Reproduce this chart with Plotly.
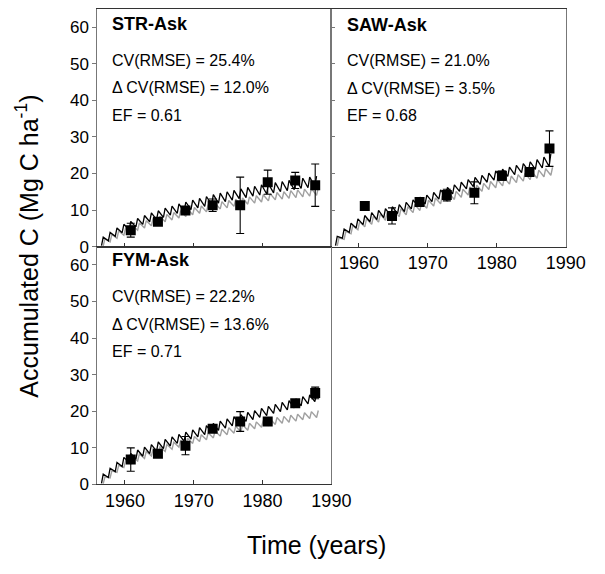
import plotly.graph_objects as go

# ---------------- data ----------------
MODEL_YEARS = list(range(1957, 1989))  # annual input years

STR_BLACK_TROUGH = [0.3, 1.6, 2.8, 3.8, 4.6, 5.4, 6.1, 6.8, 7.4, 8.0, 8.6, 9.1, 9.6, 10.1, 10.6, 11.0,
                    11.5, 11.9, 12.3, 12.7, 13.1, 13.4, 13.8, 14.1, 14.4, 14.7, 15.0, 15.3, 15.6, 15.9, 16.1, 16.4]
STR_BLACK_PEAK = [2.6, 3.9, 5.1, 6.1, 6.9, 7.7, 8.5, 9.2, 9.8, 10.5, 11.1, 11.7, 12.2, 12.7, 13.2, 13.7,
                  14.2, 14.6, 15.0, 15.4, 15.8, 16.2, 16.5, 16.9, 17.2, 17.5, 17.8, 18.1, 18.4, 18.7, 19.0, 19.3]
STR_GRAY_TROUGH = [0.2, 1.3, 2.3, 3.1, 3.8, 4.5, 5.1, 5.7, 6.3, 6.8, 7.3, 7.8, 8.2, 8.7, 9.1, 9.5,
                   9.9, 10.3, 10.6, 11.0, 11.3, 11.6, 11.9, 12.2, 12.5, 12.8, 13.0, 13.2, 13.4, 13.6, 13.8, 14.0]
STR_GRAY_PEAK = [2.2, 3.3, 4.3, 5.1, 5.8, 6.5, 7.1, 7.7, 8.3, 8.8, 9.3, 9.8, 10.3, 10.7, 11.1, 11.5,
                 11.9, 12.3, 12.6, 13.0, 13.3, 13.6, 13.9, 14.2, 14.5, 14.8, 15.0, 15.3, 15.5, 15.7, 15.9, 16.1]

SAW_BLACK_TROUGH = [0.3, 2.3, 3.9, 5.1, 6.0, 6.8, 7.4, 7.9, 8.4, 9.0, 9.6, 10.3, 11.0, 11.6, 12.3, 13.0,
                    13.7, 14.4, 15.1, 15.8, 16.4, 17.0, 17.6, 18.2, 18.7, 19.2, 19.7, 20.2, 20.7, 21.1, 21.5, 21.9]
SAW_BLACK_PEAK = [2.8, 4.8, 6.4, 7.6, 8.5, 9.3, 9.9, 10.4, 10.9, 11.5, 12.1, 12.8, 13.5, 14.1, 14.8, 15.5,
                  16.2, 16.9, 17.6, 18.3, 18.9, 19.5, 20.1, 20.7, 21.2, 21.7, 22.2, 22.7, 23.2, 23.8, 24.5, 25.4]
SAW_GRAY_TROUGH = [0.2, 2.0, 3.5, 4.6, 5.4, 6.1, 6.7, 7.2, 7.7, 8.2, 8.7, 9.3, 9.9, 10.5, 11.1, 11.7,
                   12.3, 12.9, 13.5, 14.1, 14.6, 15.1, 15.6, 16.1, 16.6, 17.1, 17.5, 17.9, 18.3, 18.7, 19.1, 19.5]
SAW_GRAY_PEAK = [2.4, 4.2, 5.7, 6.8, 7.6, 8.3, 8.9, 9.4, 9.9, 10.4, 10.9, 11.5, 12.1, 12.7, 13.3, 13.9,
                 14.5, 15.1, 15.7, 16.3, 16.8, 17.3, 17.8, 18.3, 18.8, 19.3, 19.7, 20.1, 20.5, 20.9, 21.3, 21.7]

FYM_BLACK_TROUGH = [0.3, 1.9, 3.5, 4.9, 6.0, 6.9, 7.7, 8.4, 9.1, 9.8, 10.5, 11.2, 11.8, 12.4, 13.0, 13.6,
                    14.2, 14.8, 15.4, 16.0, 16.6, 17.2, 17.7, 18.3, 18.8, 19.4, 19.9, 20.4, 20.9, 21.5, 22.0, 22.6]
FYM_BLACK_PEAK = [2.8, 4.4, 6.0, 7.4, 8.5, 9.4, 10.2, 10.9, 11.6, 12.3, 13.0, 13.7, 14.3, 14.9, 15.5, 16.1,
                  16.7, 17.3, 17.9, 18.5, 19.1, 19.7, 20.2, 20.8, 21.3, 21.9, 22.4, 22.9, 23.4, 24.0, 24.5, 25.1]
FYM_GRAY_TROUGH = [0.2, 1.8, 3.3, 4.6, 5.6, 6.4, 7.1, 7.8, 8.4, 9.0, 9.6, 10.2, 10.7, 11.2, 11.7, 12.2,
                   12.7, 13.2, 13.6, 14.0, 14.4, 14.8, 15.2, 15.6, 16.0, 16.4, 16.7, 17.0, 17.3, 17.7, 18.0, 18.3]
FYM_GRAY_PEAK = [2.1, 3.7, 5.2, 6.5, 7.5, 8.3, 9.0, 9.7, 10.3, 10.9, 11.5, 12.1, 12.6, 13.1, 13.6, 14.1,
                 14.6, 15.1, 15.5, 15.9, 16.3, 16.7, 17.1, 17.5, 17.9, 18.3, 18.6, 18.9, 19.2, 19.6, 19.9, 20.2]

OBS_YEARS = [1960.85, 1964.8, 1968.8, 1972.75, 1976.75, 1980.75, 1984.75, 1987.65]
STR_OBS = [4.5, 6.8, 9.9, 11.3, 11.3, 17.6, 18.1, 16.8]
STR_ERR = [1.9, 0.0, 0.0, 1.7, 7.7, 3.3, 2.2, 5.8]
SAW_OBS = [11.1, 8.4, 12.2, 14.1, 14.7, 19.4, 20.4, 26.8]
SAW_ERR = [0.0, 2.2, 0.0, 1.6, 3.0, 1.25, 0.0, 4.85]
FYM_OBS = [6.8, 8.4, 10.6, 15.2, 17.2, 17.2, 22.2, 25.0]
FYM_ERR = [3.2, 0.0, 2.5, 0.0, 2.7, 0.0, 0.0, 1.6]

PANEL_TITLES = ["STR-Ask", "SAW-Ask", "FYM-Ask"]
PANEL_STATS = [
    ["CV(RMSE) = 25.4%", "\u0394 CV(RMSE) = 12.0%", "EF = 0.61"],
    ["CV(RMSE) = 21.0%", "\u0394 CV(RMSE) = 3.5%", "EF = 0.68"],
    ["CV(RMSE) = 22.2%", "\u0394 CV(RMSE) = 13.6%", "EF = 0.71"],
]
Y_TICKS = [0, 10, 20, 30, 40, 50, 60]
X_TICKS = [1960, 1970, 1980, 1990]

# ---------------- layout constants ----------------
W, H = 605, 574
FONT = "Arial, Liberation Sans, sans-serif"
L, MID, R = 100.7, 342.7, 585.0
TOP, MIDY, BOT = 9.0, 251.0, 493.0


def fx(px):
    return px / W


def fy(py):
    return 1 - py / H


def saw(start, trough, peak):
    xs, ys = [], []
    for i, (t, p) in enumerate(zip(trough, peak)):
        xs += [start + i, start + i + 0.25]
        ys += [t, p]
    return xs, ys


fig = go.Figure()

panels = [
    ("x", "y", STR_BLACK_TROUGH, STR_BLACK_PEAK, STR_GRAY_TROUGH, STR_GRAY_PEAK, STR_OBS, STR_ERR),
    ("x2", "y2", SAW_BLACK_TROUGH, SAW_BLACK_PEAK, SAW_GRAY_TROUGH, SAW_GRAY_PEAK, SAW_OBS, SAW_ERR),
    ("x3", "y3", FYM_BLACK_TROUGH, FYM_BLACK_PEAK, FYM_GRAY_TROUGH, FYM_GRAY_PEAK, FYM_OBS, FYM_ERR),
]

for xa, ya, bt, bp, gt, gp, obs, err in panels:
    gx, gyv = saw(MODEL_YEARS[0] - 0.15, gt, gp)
    fig.add_trace(go.Scatter(x=gx, y=gyv, mode="lines", line=dict(color="#a0a0a0", width=1.4),
                             xaxis=xa, yaxis=ya, showlegend=False, hoverinfo="skip"))
    bx, byv = saw(MODEL_YEARS[0] - 0.4, bt, bp)
    fig.add_trace(go.Scatter(x=bx, y=byv, mode="lines", line=dict(color="black", width=1.3),
                             xaxis=xa, yaxis=ya, showlegend=False, hoverinfo="skip"))
    fig.add_trace(go.Scatter(x=OBS_YEARS, y=obs, mode="markers",
                             marker=dict(symbol="square", size=10, color="black"),
                             error_y=dict(type="data", array=err, visible=True, color="black",
                                          thickness=1.1, width=4),
                             xaxis=xa, yaxis=ya, showlegend=False))

xcommon = dict(range=[1956, 1990], tickvals=X_TICKS, ticks="inside", ticklen=4, tickcolor="#333",
               showline=True, mirror=True, linecolor="#333", linewidth=1, showgrid=False, zeroline=False,
               tickfont=dict(family=FONT, size=18, color="black"))
ycommon = dict(range=[0, 65], tickvals=Y_TICKS, ticklen=4, tickcolor="#777",
               showline=True, mirror=True, linecolor="#777", linewidth=1, showgrid=False, zeroline=False,
               tickfont=dict(family=FONT, size=17, color="black"))

fig.update_layout(
    width=W, height=H, margin=dict(l=0, r=0, t=0, b=0),
    paper_bgcolor="white", plot_bgcolor="white",
    font=dict(family=FONT, color="black"),
    xaxis=dict(domain=[fx(L), fx(MID)], anchor="y", showticklabels=False, **xcommon),
    yaxis=dict(domain=[fy(MIDY), fy(TOP)], anchor="x", ticks="outside", **ycommon),
    xaxis2=dict(domain=[fx(MID), fx(R)], anchor="y2", showticklabels=True, **xcommon),
    yaxis2=dict(domain=[fy(MIDY), fy(TOP)], anchor="x2", ticks="inside", showticklabels=False, **ycommon),
    xaxis3=dict(domain=[fx(L), fx(MID)], anchor="y3", showticklabels=True, **xcommon),
    yaxis3=dict(domain=[fy(BOT), fy(MIDY)], anchor="x3", ticks="outside", **ycommon),
)

annotations = []
title_pos = [(114, 24.5), (356.7, 25), (114, 265)]
stat_offsets = [37, 65, 93]
for (tx, ty), title, stats in zip(title_pos, PANEL_TITLES, PANEL_STATS):
    annotations.append(dict(x=fx(tx), y=fy(ty), xref="paper", yref="paper", xanchor="left", yanchor="middle",
                            text="<b>%s</b>" % title, showarrow=False,
                            font=dict(family=FONT, size=18, color="black")))
    for off, s in zip(stat_offsets, stats):
        annotations.append(dict(x=fx(tx), y=fy(ty + off), xref="paper", yref="paper", xanchor="left",
                                yanchor="middle", text=s, showarrow=False,
                                font=dict(family=FONT, size=16, color="black")))

annotations.append(dict(x=fx(28), y=fy(251), xref="paper", yref="paper", xanchor="center", yanchor="middle",
                        text="Accumulated C (Mg C ha<sup>-1</sup>)", textangle=-90, showarrow=False,
                        font=dict(family=FONT, size=25, color="black")))
annotations.append(dict(x=fx(327), y=fy(555), xref="paper", yref="paper", xanchor="center", yanchor="middle",
                        text="Time (years)", showarrow=False,
                        font=dict(family=FONT, size=25, color="black")))
fig.update_layout(annotations=annotations)

fig.write_html("out.html")
